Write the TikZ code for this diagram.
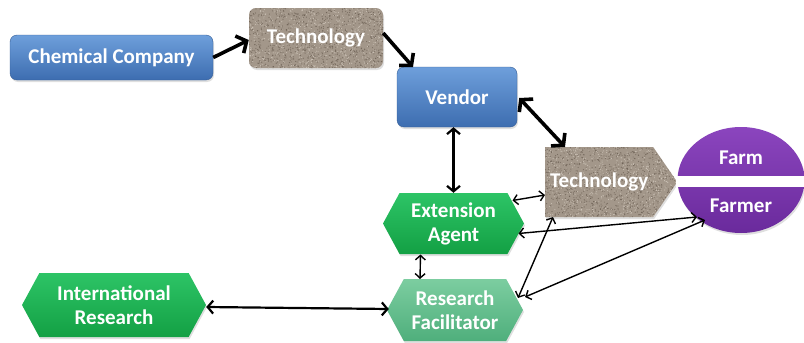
\documentclass[tikz,border=0pt]{standalone}
\usepackage{fontspec}
\setmainfont{Carlito}
\usetikzlibrary{shapes.symbols,shapes.geometric,arrows.meta,calc,shadows}

\definecolor{blueTop}{HTML}{6E9FDB}
\definecolor{blueBot}{HTML}{3D6DB0}
\definecolor{greenTop}{HTML}{2DC466}
\definecolor{greenBot}{HTML}{13A044}
\definecolor{paleTop}{HTML}{7CCDA0}
\definecolor{paleBot}{HTML}{4FAF7C}
\definecolor{purpleTop}{HTML}{8B45BE}
\definecolor{purpleBot}{HTML}{6A2A9C}
\definecolor{stoneBase}{HTML}{A3978A}
\definecolor{stoneDark}{HTML}{685C50}
\definecolor{stoneLight}{HTML}{D6CDC2}

\tikzset{
  lbl/.style={text=white, font=\fontsize{21}{24}\selectfont\bfseries, align=center},
  soft/.style={drop shadow={shadow xshift=1pt,shadow yshift=-2pt,opacity=0.25}},
  bluebox/.style={lbl, rectangle, rounded corners=7pt, top color=blueTop,
    bottom color=blueBot, draw=blueBot!85!black, line width=0.4pt, soft},
  hexbox/.style={lbl, signal, signal to=east and west, signal pointer angle=123,
    top color=greenTop, bottom color=greenBot, soft, inner sep=0pt},
  palehex/.style={hexbox, top color=paleTop, bottom color=paleBot},
  speckle/.style={path picture={
      \pgfmathsetseed{#1}
      \foreach \k in {1,...,1500}{
        \fill[stoneDark,opacity=0.7] ($(path picture bounding box.center)+(rand*75,rand*45)$) circle (0.6pt);
      }
      \foreach \k in {1,...,1100}{
        \fill[stoneLight,opacity=0.75] ($(path picture bounding box.center)+(rand*75,rand*45)$) circle (0.55pt);
      }
    }},
  granite/.style={lbl, fill=stoneBase, soft, speckle=#1},
  heavy/.style={line width=3.6pt, -{Straight Barb[length=8pt,width=19pt]}},
  heavyboth/.style={line width=3.6pt,
    {Straight Barb[length=8pt,width=19pt]}-{Straight Barb[length=8pt,width=19pt]}},
  midboth/.style={line width=2.2pt,
    {Straight Barb[length=5.5pt,width=13pt]}-{Straight Barb[length=5.5pt,width=13pt]}},
  thinboth/.style={line width=1.4pt,
    {Straight Barb[length=4.5pt,width=10pt]}-{Straight Barb[length=4.5pt,width=10pt]}}
}

\begin{document}
\begin{tikzpicture}[x=1pt,y=-1pt]
\useasboundingbox (0,0) rectangle (804,343);

% supply chain boxes
\node[bluebox, minimum width=203pt, minimum height=45pt] (chem) at (111.5,57.5) {Chemical Company};
\node[granite=11, rectangle, rounded corners=7pt, minimum width=134pt, minimum height=60pt] (techA) at (316,38) {Technology};
\node[bluebox, minimum width=120pt, minimum height=60pt] (vendor) at (457,97) {Vendor};
\node[granite=23, signal, signal to=east, signal pointer angle=111, inner sep=0pt,
      minimum width=132pt, minimum height=70pt, anchor=west] (techB) at (545,182) {Technology};

% farm and farmer
\node[ellipse, minimum width=127pt, minimum height=106pt, top color=purpleTop,
      bottom color=purpleBot, soft, inner sep=0pt] (farm) at (741,180) {};
\fill[white] ($(farm.west)+(-1,-4)$) rectangle ($(farm.east)+(1,7)$);
\node[lbl] (farmtop) at (741,158) {Farm};
\node[lbl] (farmer) at (741,206) {Farmer};

% research and extension
\node[hexbox, minimum width=141pt, minimum height=61pt] (ext) at (453.5,223.5) {Extension\\Agent};
\node[palehex, minimum width=136pt, minimum height=62pt] (fac) at (455,310) {Research\\Facilitator};
\node[hexbox, minimum width=184pt, minimum height=64pt] (intl) at (114,305) {International\\Research};

% connectors
\draw[heavy] (chem.east) -- ($(techA.west)+(0,2)$);
\draw[heavy] ($(techA.east)+(0,-5)$) -- ($(vendor.center)+(-44,-30)$);
\draw[heavyboth] ($(vendor.east)+(2,1)$) -- ($(techB.west)+(20,-35)$);
\draw[midboth] (vendor.south -| ext.north) -- (ext.north);
\draw[thinboth] ($(ext.center)+(59,-23)$) -- ($(techB.west)+(0,13)$);
\draw[thinboth] ($(ext.center)+(65,10)$) -- ($(farm.center)+(-44,37)$);
\draw[thinboth] ($(ext.center)+(-33,31)$) -- ($(fac.center)+(-35,-31)$);
\draw[midboth] ($(intl.east)+(0,2)$) -- ($(fac.west)+(2,-1)$);
\draw[thinboth] ($(fac.center)+(63,-12)$) -- ($(techB.west)+(8,35)$);
\draw[thinboth] ($(fac.center)+(70,-13)$) -- ($(farm.center)+(-36,40)$);
\end{tikzpicture}
\end{document}
